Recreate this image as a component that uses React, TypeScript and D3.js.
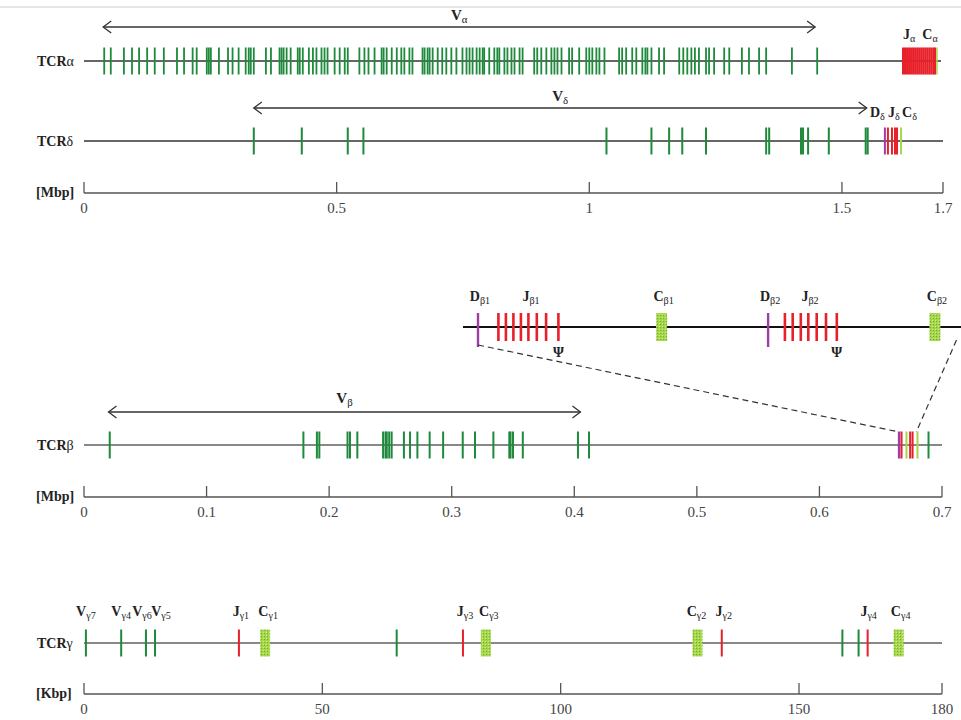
import React from 'react';
import * as d3 from 'd3';

// positions in Mbp (alpha/delta/beta) and Kbp (gamma)
const alphaV = [0.040, 0.053, 0.079, 0.095, 0.109, 0.125, 0.140, 0.158, 0.184, 0.198, 0.215, 0.223, 0.243, 0.247, 0.251, 0.267, 0.285, 0.294, 0.306, 0.320, 0.326, 0.330, 0.336, 0.360, 0.370, 0.387, 0.391, 0.395, 0.401, 0.409, 0.423, 0.427, 0.433, 0.445, 0.453, 0.460, 0.470, 0.476, 0.482, 0.496, 0.506, 0.516, 0.522, 0.545, 0.555, 0.563, 0.575, 0.589, 0.593, 0.599, 0.609, 0.619, 0.628, 0.634, 0.644, 0.650, 0.670, 0.674, 0.680, 0.684, 0.690, 0.700, 0.709, 0.717, 0.727, 0.737, 0.749, 0.757, 0.763, 0.769, 0.777, 0.783, 0.789, 0.792, 0.802, 0.812, 0.818, 0.822, 0.832, 0.838, 0.846, 0.852, 0.862, 0.868, 0.891, 0.897, 0.905, 0.915, 0.925, 0.931, 0.937, 0.945, 0.960, 0.966, 0.980, 0.994, 1.000, 1.006, 1.014, 1.020, 1.030, 1.059, 1.065, 1.073, 1.085, 1.093, 1.105, 1.111, 1.115, 1.123, 1.138, 1.148, 1.178, 1.186, 1.194, 1.202, 1.209, 1.217, 1.231, 1.237, 1.247, 1.267, 1.277, 1.302, 1.316, 1.336, 1.350, 1.401, 1.451];
const alphaJ = [1.621, 1.625, 1.629, 1.633, 1.637, 1.641, 1.645, 1.649, 1.653, 1.657, 1.661, 1.665, 1.669, 1.673, 1.677, 1.681, 1.684];
const alphaC = [1.688];

const deltaV = [0.336, 0.431, 0.522, 0.553, 1.034, 1.123, 1.158, 1.184, 1.231, 1.350, 1.356, 1.419, 1.423, 1.433, 1.474, 1.547, 1.551];
const deltaD = [1.585];
const deltaJ = [1.591, 1.599, 1.605, 1.609];
const deltaC = [1.617];

const betaV = [0.021, 0.179, 0.190, 0.192, 0.215, 0.217, 0.223, 0.244, 0.246, 0.247, 0.249, 0.251, 0.261, 0.266, 0.272, 0.282, 0.293, 0.309, 0.319, 0.334, 0.347, 0.348, 0.350, 0.358, 0.403, 0.412, 0.689];
const betaD = [0.665];
const betaJ = [0.667, 0.674, 0.676];
const betaC = [0.671, 0.680];

// inset of the beta D-J-C region, kb from D-beta1
const insetD = [0, 9.67];
const insetJ = [0.68, 0.93, 1.18, 1.43, 1.68, 1.96, 2.27, 2.68, 10.23, 10.49, 10.76, 11.01, 11.29, 11.6, 11.96];
const insetC = [6.12, 15.23];
const insetLabels = [
  { m: 'D', s: 'β1', p: 0 }, { m: 'J', s: 'β1', p: 1.7 }, { m: 'C', s: 'β1', p: 6.12 },
  { m: 'D', s: 'β2', p: 9.67 }, { m: 'J', s: 'β2', p: 11.0 }, { m: 'C', s: 'β2', p: 15.23 },
];
const psi = [2.68, 11.96];

const gammaV = [0.4, 7.8, 13.0, 14.9, 65.6, 159.1, 162.5];
const gammaJ = [32.5, 79.5, 133.8, 164.4];
const gammaC = [38.0, 84.3, 128.7, 170.9];
const gammaLabels = [
  { m: 'V', s: 'γ7', p: 0.4, dx: 0 }, { m: 'V', s: 'γ4', p: 7.8, dx: 0 },
  { m: 'V', s: 'γ6', p: 13.0, dx: -4 }, { m: 'V', s: 'γ5', p: 14.9, dx: 6 },
  { m: 'J', s: 'γ1', p: 32.5, dx: 2 }, { m: 'C', s: 'γ1', p: 38.0, dx: 3 },
  { m: 'J', s: 'γ3', p: 79.5, dx: 2 }, { m: 'C', s: 'γ3', p: 84.3, dx: 3 },
  { m: 'C', s: 'γ2', p: 128.7, dx: -1 }, { m: 'J', s: 'γ2', p: 133.8, dx: 2 },
  { m: 'J', s: 'γ4', p: 164.4, dx: 1 }, { m: 'C', s: 'γ4', p: 170.9, dx: 2 },
];

const mbpTicks = [0, 0.5, 1, 1.5, 1.7];
const betaTicks = [0, 0.1, 0.2, 0.3, 0.4, 0.5, 0.6, 0.7];
const kbpTicks = [0, 50, 100, 150, 180];

const GREEN = '#1f8a3c';
const RED = '#e8202a';
const PURPLE = '#9b3fa6';
const LIME = '#a6d64a';
const FONT = '"Liberation Serif", "DejaVu Serif", serif';

const xa = d3.scaleLinear().domain([0, 1.7]).range([84, 943]);
const xb = d3.scaleLinear().domain([0, 0.7]).range([84, 942]);
const xg = d3.scaleLinear().domain([0, 180]).range([84, 942]);
const xi = d3.scaleLinear().domain([-0.5, 16.1]).range([463, 961]);

const Lbl = ({ x, y, m, s, size = 14, anchor = 'middle' }: any) => (
  <text x={x} y={y} textAnchor={anchor} fontFamily={FONT} fontWeight="bold" fontSize={size} fill="#222">
    {m}
    <tspan fontSize={size * 0.72} fontWeight="normal" dy={3}>{s}</tspan>
  </text>
);

const Bars = ({ data, x, y, h, color, w = 2 }: any) => (
  <g>
    {data.map((d: number, i: number) => (
      <rect key={i} x={x(d) - w / 2} y={y - h / 2} width={w} height={h} fill={color} />
    ))}
  </g>
);

const Blocks = ({ data, x, y, h, w }: any) => (
  <g>
    {data.map((d: number, i: number) => (
      <rect key={i} x={x(d) - w / 2} y={y - h / 2} width={w} height={h} fill="url(#hatch)" />
    ))}
  </g>
);

const Arrow = ({ x1, x2, y }: any) => (
  <g stroke="#333" strokeWidth={1.3} fill="none">
    <line x1={x1} x2={x2} y1={y} y2={y} />
    <path d={`M${x1 + 8},${y - 6} L${x1},${y} L${x1 + 8},${y + 6}`} />
    <path d={`M${x2 - 8},${y - 6} L${x2},${y} L${x2 - 8},${y + 6}`} />
  </g>
);

const Axis = ({ x, y, ticks, unit }: any) => (
  <g>
    <line x1={x.range()[0]} x2={x.range()[1]} y1={y} y2={y} stroke="#555" strokeWidth={1.3} />
    {ticks.map((t: number) => (
      <g key={t}>
        <line x1={x(t)} x2={x(t)} y1={y - 11} y2={y} stroke="#555" strokeWidth={1.3} />
        <text x={x(t)} y={y + 20} textAnchor="middle" fontFamily={FONT} fontSize={15} fill="#444">{t}</text>
      </g>
    ))}
    <text x={36} y={y + 4} fontFamily={FONT} fontWeight="bold" fontSize={14} fill="#222">{unit}</text>
  </g>
);

const Track = ({ sub, y, x, color = '#333', w = 1.5 }: any) => (
  <g>
    <line x1={x.range()[0]} x2={x.range()[1]} y1={y} y2={y} stroke={color} strokeWidth={w} />
    <text x={37} y={y + 5} fontFamily={FONT} fontWeight="bold" fontSize={14} fill="#222">
      TCR<tspan fontWeight="normal">{sub}</tspan>
    </text>
  </g>
);

export default function App() {
  const yA = 61, yD = 141, yB = 445, yI = 327, yG = 643;
  return (
    <svg width={961} height={720} style={{ position: 'absolute', left: 0, top: 0, background: '#fff' }}>
      <defs>
        <pattern id="hatch" width={3} height={3} patternUnits="userSpaceOnUse">
          <rect width={3} height={3} fill={LIME} />
          <rect width={1} height={1} fill="#6fae2e" />
          <rect x={2} y={2} width={1} height={1} fill="#c8ec8a" />
        </pattern>
      </defs>
      <line x1={0} x2={961} y1={7} y2={7} stroke="#e6e6e6" strokeWidth={2} />

      {/* TCR alpha */}
      <Arrow x1={xa(0.038)} x2={xa(1.447)} y={27} />
      <Lbl x={(xa(0.038) + xa(1.447)) / 2} y={20} m="V" s="α" size={15} />
      <Track sub="α" y={yA} x={d3.scaleLinear().domain([0, 1]).range([84, 941])} />
      <Bars data={alphaV} x={xa} y={yA} h={27} color={GREEN} w={1.8} />
      <Bars data={alphaJ} x={xa} y={yA} h={27} color={RED} w={2.2} />
      <Bars data={alphaC} x={xa} y={yA} h={27} color={LIME} w={1.5} />
      <Lbl x={xa(1.621)} y={39} m="J" s="α" anchor="start" />
      <Lbl x={xa(1.659)} y={39} m="C" s="α" anchor="start" />

      {/* TCR delta */}
      <Arrow x1={xa(0.336)} x2={xa(1.549)} y={108} />
      <Lbl x={(xa(0.336) + xa(1.549)) / 2} y={101} m="V" s="δ" size={15} />
      <Track sub="δ" y={yD} x={xa} />
      <Bars data={deltaV} x={xa} y={yD} h={27} color={GREEN} />
      <Bars data={deltaD} x={xa} y={yD} h={27} color={PURPLE} />
      <Bars data={deltaJ} x={xa} y={yD} h={27} color={RED} />
      <Bars data={deltaC} x={xa} y={yD} h={27} color={LIME} />
      <Lbl x={xa(1.585) - 15} y={117} m="D" s="δ" anchor="start" />
      <Lbl x={xa(1.591) + 0} y={117} m="J" s="δ" anchor="start" />
      <Lbl x={xa(1.617) + 1} y={117} m="C" s="δ" anchor="start" />
      <Axis x={xa} y={193} ticks={mbpTicks} unit="[Mbp]" />

      {/* beta inset */}
      <line x1={xi.range()[0]} x2={xi.range()[1]} y1={yI} y2={yI} stroke="#111" strokeWidth={2.2} />
      <Bars data={insetJ} x={xi} y={yI} h={28} color={RED} w={2.6} />
      <Bars data={insetD} x={xi} y={yI + 3} h={34} color={PURPLE} w={2.4} />
      <Blocks data={insetC} x={xi} y={yI} h={28} w={11} />
      {insetLabels.map((l, i) => (
        <Lbl key={i} x={xi(l.p) + 2} y={301} m={l.m} s={l.s} />
      ))}
      {psi.map((p, i) => (
        <text key={i} x={xi(p)} y={357} textAnchor="middle" fontFamily={FONT} fontWeight="bold" fontSize={14} fill="#222">Ψ</text>
      ))}
      <g stroke="#333" strokeWidth={1.2} strokeDasharray="6,4" fill="none">
        <line x1={xi(0)} y1={345} x2={xb(0.665)} y2={432} />
        <line x1={xi(15.95)} y1={340} x2={xb(0.679)} y2={432} />
      </g>

      {/* TCR beta */}
      <Arrow x1={xb(0.020)} x2={xb(0.405)} y={412} />
      <Lbl x={(xb(0.020) + xb(0.405)) / 2} y={403} m="V" s="β" size={15} />
      <Track sub="β" y={yB} x={xb} color="#888" w={2} />
      <Bars data={betaV} x={xb} y={yB} h={27} color={GREEN} />
      <Bars data={betaC} x={xb} y={yB} h={27} color={LIME} />
      <Bars data={betaJ} x={xb} y={yB} h={27} color={RED} />
      <Bars data={betaD} x={xb} y={yB} h={27} color={PURPLE} w={2.5} />
      <Axis x={xb} y={497} ticks={betaTicks} unit="[Mbp]" />

      {/* TCR gamma */}
      <Track sub="γ" y={yG} x={xg} color="#888" w={2} />
      <Bars data={gammaV} x={xg} y={yG} h={27} color={GREEN} />
      <Bars data={gammaJ} x={xg} y={yG} h={27} color={RED} />
      <Blocks data={gammaC} x={xg} y={yG} h={27} w={10} />
      {gammaLabels.map((l, i) => (
        <Lbl key={i} x={xg(l.p) + l.dx} y={616} m={l.m} s={l.s} />
      ))}
      <Axis x={xg} y={694} ticks={kbpTicks} unit="[Kbp]" />
    </svg>
  );
}
